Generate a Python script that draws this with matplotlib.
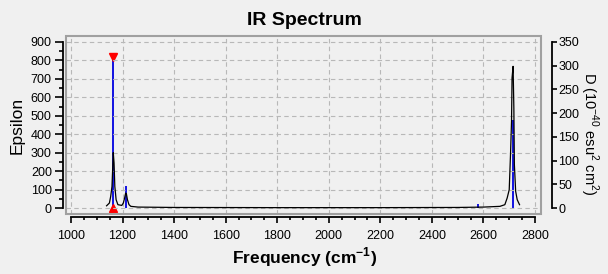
import matplotlib
matplotlib.use("Agg")
import matplotlib.pyplot as plt
from matplotlib.patches import Rectangle
from matplotlib.ticker import MultipleLocator

plt.rcParams['font.family'] = ['Liberation Sans', 'DejaVu Sans']
plt.rcParams['mathtext.fontset'] = 'custom'
plt.rcParams['mathtext.rm'] = 'Liberation Sans'
plt.rcParams['mathtext.bf'] = 'Liberation Sans:bold'

# broadened spectrum (epsilon)
freq = [1138, 1149, 1154, 1159, 1162, 1164, 1167, 1170, 1175, 1182, 1197, 1203,
        1208, 1212, 1215, 1219, 1225, 1232, 1260, 1400, 1800, 2200, 2500, 2600,
        2664, 2683, 2692, 2700, 2705, 2709, 2711, 2715, 2718, 2720, 2725, 2731, 2740]
eps = [12, 27, 63, 117, 225, 300, 244, 117, 45, 18, 14, 27,
       54, 81, 76, 45, 18, 9, 5, 3, 2, 2, 3, 5,
       9, 18, 54, 99, 289, 470, 705, 768, 542, 235, 90, 45, 18]

# stick spectrum (dipole strength D)
stick_freq = [1164, 1214, 2580, 2715]
stick_d = [318, 47, 8, 186]
sel_freq = 1164
sel_d = 318

fig = plt.figure(figsize=(6.08, 2.74), dpi=100, facecolor='#f0f0f0')
rect = [66/608, 1-214/274, 475/608, 178/274]
ax = fig.add_axes(rect)
ax2 = ax.twinx()
ax.set_zorder(ax2.get_zorder() + 1)
ax.patch.set_visible(False)
ax2.patch.set_facecolor('#fdfdf5')

ax.set_xlim(980.6, 2823.3)
ax.set_ylim(-32.5, 932.5)
ax2.set_ylim(-32.5*350/900, 932.5*350/900)

# sticks on D axis
ax2.vlines(stick_freq, 0, stick_d, color='#0000e0', lw=1.3)
ax2.plot([sel_freq], [sel_d], marker='v', color='red', ms=6, ls='none', clip_on=False)
ax2.plot([sel_freq], [0], marker='^', color='red', ms=6, ls='none', clip_on=False)

ax.plot(freq, eps, color='black', lw=0.9)

# grid
ax.xaxis.set_major_locator(MultipleLocator(200))
ax.xaxis.set_minor_locator(MultipleLocator(50))
ax.yaxis.set_major_locator(MultipleLocator(100))
ax.yaxis.set_minor_locator(MultipleLocator(50))
ax2.yaxis.set_major_locator(MultipleLocator(50))
ax.grid(True, which='major', color='#b8b8b8', ls=(0, (4, 3)), lw=0.8)

# frame
ax.add_patch(Rectangle((0, 0), 1, 1, transform=ax.transAxes, fill=False,
                       edgecolor='#a0a0a0', lw=1.5, clip_on=False, zorder=5))

for s in ['top', 'right']:
    ax.spines[s].set_visible(False)
for s in ['top', 'left', 'bottom']:
    ax2.spines[s].set_visible(False)
ax.spines['left'].set_position(('outward', 2.2))
ax.spines['left'].set_bounds(0, 900)
ax.spines['bottom'].set_position(('outward', 2.4))
ax.spines['bottom'].set_bounds(1000, 2800)
ax2.spines['right'].set_position(('outward', 8))
ax2.spines['right'].set_bounds(0, 350)
for sp in [ax.spines['left'], ax.spines['bottom'], ax2.spines['right']]:
    sp.set_linewidth(1.3)

ax.tick_params(axis='y', which='major', length=6, width=1.2, labelsize=9, pad=2)
ax.tick_params(axis='y', which='minor', length=3, width=1.2)
ax.tick_params(axis='x', which='major', length=4, width=1.2, labelsize=9, pad=5)
ax.tick_params(axis='x', which='minor', length=2, width=1.2)
ax2.tick_params(axis='y', which='major', length=3.5, width=1.2, labelsize=9, pad=1)

fig.text(304/608, 1-25/274, 'IR Spectrum', fontsize=14, fontweight='bold',
         ha='center', va='baseline')
fig.text(305/608, 1-263.5/274, r'Frequency (cm$^{\mathbf{-1}}$)', fontsize=12.5,
         fontweight='bold', ha='center', va='baseline')
fig.text(17.5/608, 1-125/274, 'Epsilon', fontsize=12.5, rotation=90,
         ha='center', va='center')
fig.text(589/608, 1-134/274, r'D (10$^{-40}$ esu$^{2}$ cm$^{2}$)', fontsize=10.5,
         rotation=-90, ha='center', va='center')

fig.savefig('out.png', dpi=100, facecolor=fig.get_facecolor())
